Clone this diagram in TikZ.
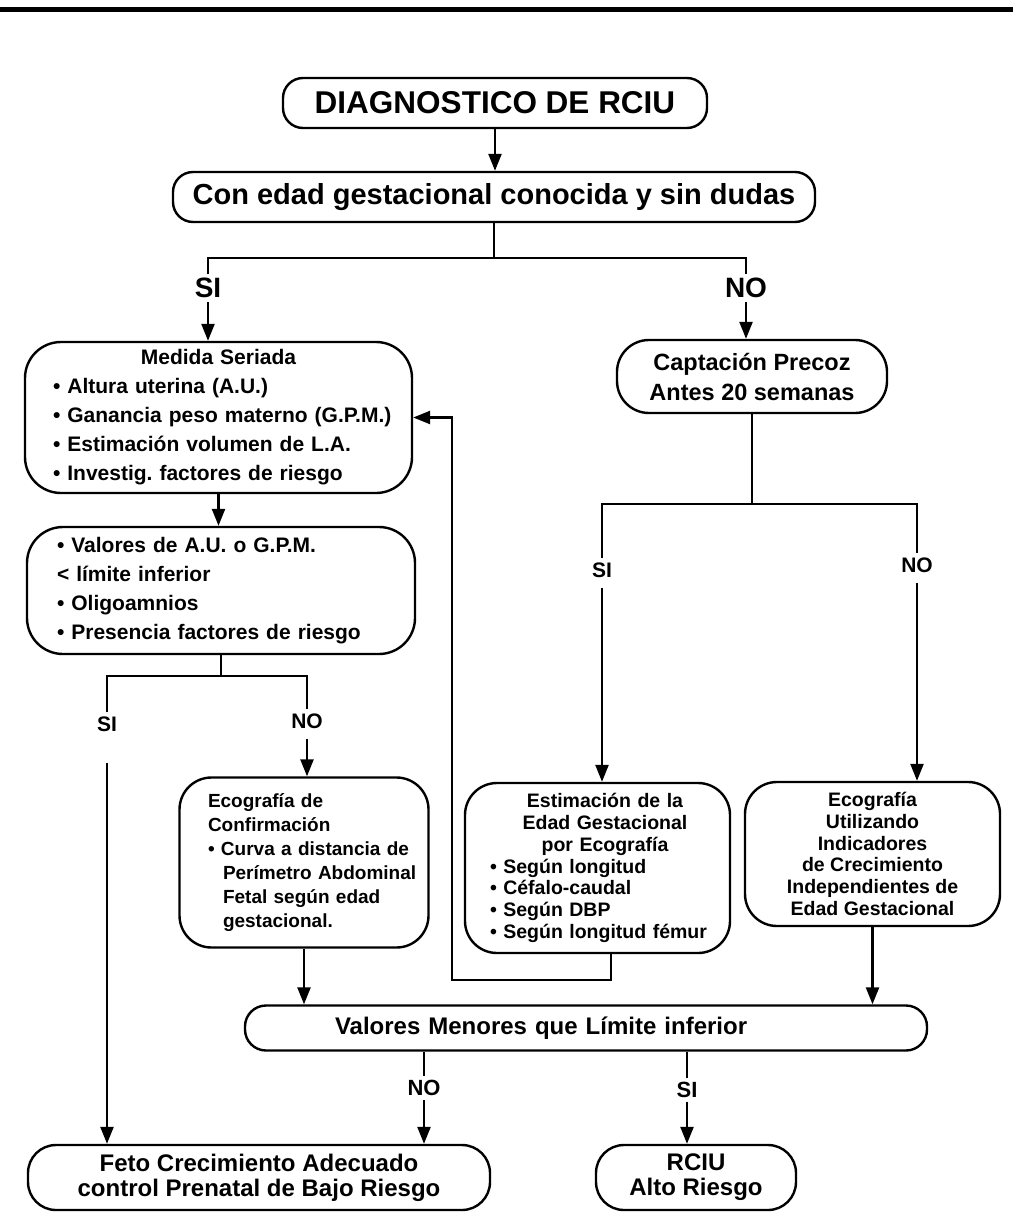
\documentclass[tikz,border=0pt]{standalone}
\usepackage{fontspec}
\setmainfont{Liberation Sans}
\usetikzlibrary{arrows.meta,calc}
\newcommand\fs[2]{\fontsize{#1}{#2}\selectfont\bfseries\frenchspacing}
\begin{document}
\begin{tikzpicture}[x=1pt,y=-1pt,
  line width=2.4pt,
  box/.style={draw, line width=2.4pt, inner sep=0pt},
  arr/.style={-{Triangle[length=17pt,width=13pt]}, line width=2.4pt},
  lab/.style={inner sep=3pt},
]
\useasboundingbox[fill=white] (0,0) rectangle (1013,1222);
\draw[line width=5pt] (0,10) -- (1013,10);

% top boxes
\node[box, rounded corners=20pt, minimum width=424pt, minimum height=50pt, font=\fs{31.5}{38}] (d1) at (495,103) {DIAGNOSTICO DE RCIU};
\node[box, rounded corners=20pt, minimum width=642pt, minimum height=50pt, font=\fs{29}{35}] (d2) at (494,197) {Con edad gestacional conocida y sin dudas};

\node[lab, font=\fs{28}{32}] (si1) at (208,288) {SI};
\node[lab, font=\fs{28}{32}] (no1) at (746,288) {NO};

% left column
\node[box, rounded corners=36pt, minimum width=387pt, minimum height=151pt, text width=331pt, align=left, font=\fs{21}{29}] (ms) at (218.5,417.5)
 {\makebox[331pt][c]{Medida Seriada}\\ • Altura uterina (A.U.)\\ \mbox{• Ganancia peso materno (G.P.M.)}\\ • Estimación volumen de L.A.\\ • Investig. factores de riesgo};

\node[box, rounded corners=36pt, minimum width=388pt, minimum height=127pt, text width=328pt, align=left, font=\fs{21}{29}] (vau) at (221,590.5)
 {• Valores de A.U. o G.P.M.\\ < límite inferior\\ • Oligoamnios\\ • Presencia factores de riesgo};

\node[lab, font=\fs{21}{25}] (si2) at (107,724) {SI};
\node[lab, font=\fs{21}{25}] (no2) at (307,721) {NO};

\node[box, rounded corners=32pt, minimum width=249pt, minimum height=170pt, text width=192pt, align=left, font=\fs{19}{24}] (eco) at (304,862.5)
 {Ecografía de\\ Confirmación\\ \mbox{• Curva a distancia de}\\ \mbox{\hspace*{15pt}Perímetro Abdominal}\\ \hspace*{15pt}Fetal según edad\\ \hspace*{15pt}gestacional.};

% right column
\node[box, rounded corners=32pt, minimum width=270pt, minimum height=73pt, align=center, font=\fs{23.5}{30}] (cap) at (752,376.5)
 {Captación Precoz\\ Antes 20 semanas};

\node[lab, font=\fs{21}{25}] (si3) at (602,570) {SI};
\node[lab, font=\fs{21}{25}] (no3) at (917,565) {NO};

\node[box, rounded corners=32pt, minimum width=265pt, minimum height=170pt, text width=215pt, align=left, font=\fs{19.5}{21.8}] (est) at (597.5,868)
 {\makebox[215pt][c]{\hspace*{15pt}Estimación de la}\\ \makebox[215pt][c]{\hspace*{15pt}Edad Gestacional}\\ \makebox[215pt][c]{\hspace*{15pt}por Ecografía}\\ • Según longitud\\ • Céfalo-caudal\\ • Según DBP\\ \mbox{• Según longitud fémur}};

\node[box, rounded corners=32pt, minimum width=255pt, minimum height=144pt, align=center, font=\fs{19.5}{21.7}] (ecu) at (872.5,854)
 {Ecografía\\ Utilizando\\ Indicadores\\ de Crecimiento\\ Independientes de\\ Edad Gestacional};

% bottom
\node[box, rounded corners=21pt, minimum width=682pt, minimum height=45pt, text width=502pt, align=left, font=\fs{24}{28}] (vm) at (586,1028)
 {Valores Menores que Límite inferior};

\node[lab, font=\fs{22}{26}] (no4) at (424,1088) {NO};
\node[lab, font=\fs{22}{26}] (si4) at (687,1090) {SI};

\node[box, rounded corners=28pt, minimum width=462pt, minimum height=65pt, align=center, font=\fs{24}{25}] (feto) at (259,1177.5)
 {Feto Crecimiento Adecuado\\ control Prenatal de Bajo Riesgo};
\node[box, rounded corners=28pt, minimum width=200pt, minimum height=65pt, align=center, font=\fs{24}{25}] (rc) at (696,1177.5)
 {RCIU\\ Alto Riesgo};

% junction coordinates
\coordinate (j1) at (494,258);
\coordinate (j2) at (221,676);
\coordinate (j3) at (752,504);
\coordinate (fb1) at (611,980);
\coordinate (fb2) at (452,980);

% connectors
\draw[arr] (d1.south) -- (d1.south |- d2.north);
\draw (d2.south) -- (d2.south |- j1);
\draw (si1.north) |- (j1) -| (no1.north);
\draw[arr] (si1.south) -- (si1.south |- ms.north);
\draw[arr] (no1.south) -- (no1.south |- cap.north);

\draw[arr] (ms.south) -- (ms.south |- vau.north);
\draw (vau.south) -- (vau.south |- j2);
\draw (si2.north) |- (j2) -| (no2.north);
\draw[arr, shorten <=27pt] (si2.south) -- (si2.south |- feto.north);
\draw[arr, shorten <=6pt] (no2.south) -- (no2.south |- eco.north);
\draw[arr] (eco.south) -- (eco.south |- vm.north);

\draw (cap.south) -- (cap.south |- j3);
\draw (si3.north) |- (j3) -| (no3.north);
\draw[arr, shorten <=6pt] (si3.south) -- (si3.south |- est.north);
\draw[arr, shorten <=6pt] (no3.south) -- (no3.south |- ecu.north);
\draw[arr] (ecu.south) -- (ecu.south |- vm.north);

\draw[arr] (fb1 |- est.south) -- (fb1) -- (fb2) |- (ms.east);

\draw (no4.north |- vm.south) -- (no4.north);
\draw[arr] (no4.south) -- (no4.south |- feto.north);
\draw (si4.north |- vm.south) -- (si4.north);
\draw[arr] (si4.south) -- (si4.south |- rc.north);
\end{tikzpicture}
\end{document}
